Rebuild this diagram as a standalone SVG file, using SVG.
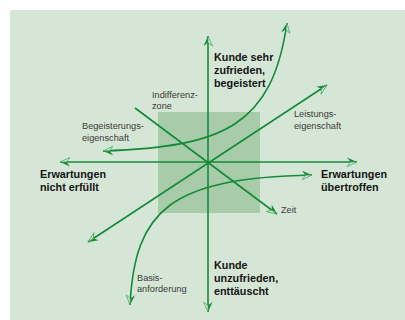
<svg xmlns="http://www.w3.org/2000/svg" width="405" height="320" viewBox="0 0 405 320">
<defs>
<style>
.ln{fill:none;stroke:#138a3a;stroke-width:1.6}
.lbl{font-family:"Liberation Sans",Arial,sans-serif;font-size:9.2px;fill:#3a3a3a}
.big{font-family:"Liberation Sans",Arial,sans-serif;font-size:10.8px;font-weight:bold;fill:#141414}
</style>
<marker id="ah" viewBox="-11 -5 12 10" refX="0" refY="0" markerWidth="12" markerHeight="10" markerUnits="userSpaceOnUse" orient="auto-start-reverse">
<path d="M0,0 L-10,-4.5 L-6.5,0 Z" fill="#138a3a"/>
<path d="M0,0 L-10,4.5 L-6.5,0 Z" fill="#cfe5cf" stroke="#3fa35a" stroke-width="0.7"/>
</marker>
</defs>
<rect x="10" y="10" width="395" height="310" fill="#d6e6d6"/>
<rect id="zone" x="158" y="112" width="102" height="101" fill="#a8cca9"/>
<g id="connectors">
<path class="ln" d="M208,312 L208,36" marker-start="url(#ah)" marker-end="url(#ah)"/>
<path class="ln" d="M60,162 L357,162" marker-start="url(#ah)" marker-end="url(#ah)"/>
<path class="ln" d="M135,108 L277,214" marker-end="url(#ah)"/>
<path class="ln" d="M88,242 L327,85" marker-start="url(#ah)" marker-end="url(#ah)"/>
<path class="ln" d="M103,151 C225,147 272,125 287,23" marker-start="url(#ah)" marker-end="url(#ah)"/>
<path class="ln" d="M130,305 C135,210 170,178 312,175" marker-start="url(#ah)" marker-end="url(#ah)"/>
</g>
<g id="top-label"><text class="big" x="214" y="61">Kunde sehr</text><text class="big" x="214" y="74">zufrieden,</text><text class="big" x="214" y="87">begeistert</text></g>
<g id="bottom-label"><text class="big" x="214" y="269">Kunde</text><text class="big" x="214" y="282">unzufrieden,</text><text class="big" x="214" y="295">enttäuscht</text></g>
<g id="left-label"><text class="big" x="40" y="178">Erwartungen</text><text class="big" x="40" y="191">nicht erfüllt</text></g>
<g id="right-label"><text class="big" x="321" y="178">Erwartungen</text><text class="big" x="321" y="191">übertroffen</text></g>
<g id="indifferenz"><text class="lbl" x="152" y="98">Indifferenz-</text><text class="lbl" x="152" y="109">zone</text></g>
<g id="begeisterung"><text class="lbl" x="82" y="129">Begeisterungs-</text><text class="lbl" x="82" y="141">eigenschaft</text></g>
<g id="leistung"><text class="lbl" x="294" y="117">Leistungs-</text><text class="lbl" x="294" y="129">eigenschaft</text></g>
<g id="zeit"><text class="lbl" x="281" y="213">Zeit</text></g>
<g id="basis"><text class="lbl" x="137" y="281">Basis-</text><text class="lbl" x="137" y="292">anforderung</text></g>
</svg>
